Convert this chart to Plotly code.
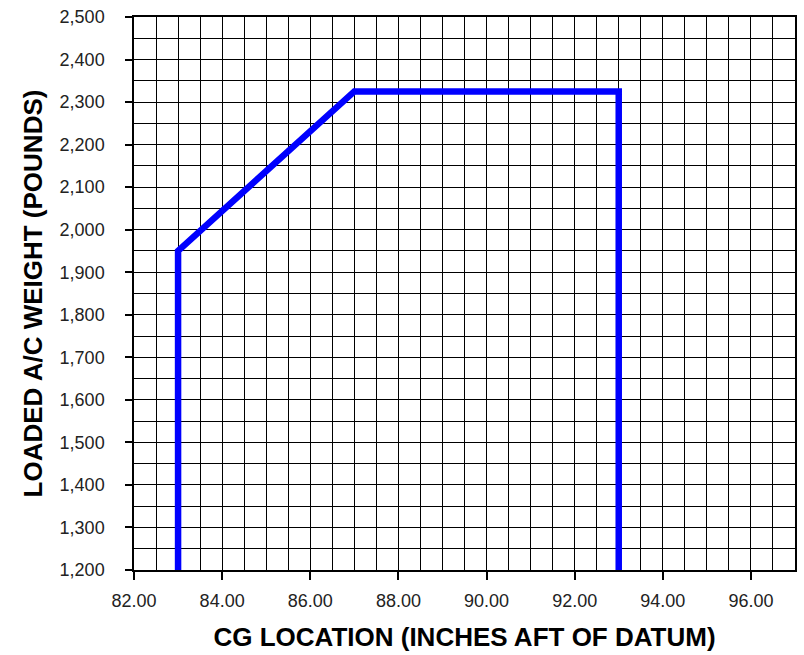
import plotly.graph_objects as go

cg_location = [83.0, 83.0, 87.0, 93.0, 93.0]
loaded_weight = [1200, 1950, 2325, 2325, 1200]
x_ticks = [82, 84, 86, 88, 90, 92, 94, 96]
y_ticks = list(range(1200, 2501, 100))

fig = go.Figure()
fig.add_trace(go.Scatter(x=cg_location, y=loaded_weight, mode="lines",
                         line=dict(color="#0000ff", width=6.5), showlegend=False))

fig.update_layout(
    width=804, height=655,
    margin=dict(l=134, r=7, t=17, b=85),
    plot_bgcolor="white", paper_bgcolor="white",
    font=dict(family="Liberation Sans, Arial, sans-serif", color="#222222"),
)
fig.update_xaxes(
    range=[82, 97], tickvals=x_ticks, ticktext=[f"{v:.2f}" for v in x_ticks],
    showgrid=True, gridcolor="black", gridwidth=1,
    minor=dict(dtick=0.5, showgrid=True, gridcolor="black", gridwidth=1, ticks=""),
    showline=True, linecolor="black", linewidth=1.5, mirror=True,
    ticks="outside", ticklen=8, tickcolor="black", tickwidth=1.5,
    tickfont=dict(size=18), ticklabelstandoff=6,
    title=dict(text="<b>CG LOCATION (INCHES AFT OF DATUM)</b>",
               font=dict(size=26, color="black"), standoff=17),
    zeroline=False,
)
fig.update_yaxes(
    range=[1200, 2500], tickvals=y_ticks, ticktext=[f"{v:,}" for v in y_ticks],
    showgrid=True, gridcolor="black", gridwidth=1,
    minor=dict(dtick=50, showgrid=True, gridcolor="black", gridwidth=1, ticks=""),
    showline=True, linecolor="black", linewidth=1.5, mirror=True,
    ticks="outside", ticklen=7, tickcolor="black", tickwidth=1.5,
    tickfont=dict(size=18), ticklabelstandoff=17,
    title=dict(text="<b>LOADED A/C WEIGHT (POUNDS)</b>",
               font=dict(size=26, color="black"), standoff=10),
    zeroline=False,
)
fig.write_html("out.html", config={"displayModeBar": False},
               post_script="document.body.style.margin='0';")
